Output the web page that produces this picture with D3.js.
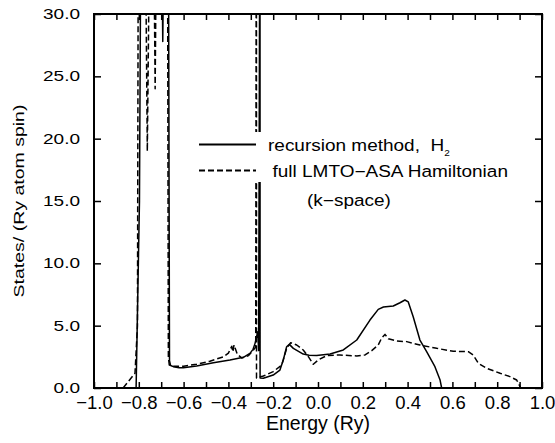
<!DOCTYPE html>
<html><head><meta charset="utf-8">
<script src="https://cdn.jsdelivr.net/npm/d3@7"></script>
<style>
body{margin:0;background:#fff}
svg{display:block}
text{font-family:"Liberation Sans",Arial,Helvetica,sans-serif;fill:#000}
</style>
</head><body>
<svg id="c" width="555" height="443"></svg>
<script>
// ---- data ----
const recursionE = [-0.812,-0.797,-0.790,-0.700,-0.693,-0.686,-0.668,-0.663,-0.658,-0.646,-0.620,-0.601,-0.542,-0.467,-0.393,-0.333,-0.304,-0.290,-0.281,-0.272,-0.269,-0.265,-0.2595,-0.2590,-0.2585,-0.244,-0.200,-0.170,-0.155,-0.140,-0.128,-0.110,-0.066,-0.040,-0.006,0.054,0.113,0.173,0.232,0.269,0.292,0.336,0.366,0.388,0.403,0.425,0.455,0.485,0.522,0.545,0.552];
const recursionDOS = [0,15,40,40,27.8,40,40,2.2,1.8,1.71,1.63,1.63,1.76,2.03,2.25,2.46,2.78,3.1,3.58,4.3,4.52,3.0,40,40,0.8,0.78,1.04,1.44,2.25,3.31,3.5,3.18,2.72,2.62,2.6,2.73,3.05,3.85,5.45,6.31,6.5,6.58,6.84,7.06,6.9,5.72,3.85,2.91,1.71,0.64,0];

const kspaceE = [-0.870,-0.817,-0.806,-0.802,-0.772,-0.762,-0.750,-0.735,-0.727,-0.720,-0.672,-0.668,-0.664,-0.646,-0.600,-0.542,-0.483,-0.423,-0.400,-0.385,-0.380,-0.375,-0.360,-0.340,-0.310,-0.290,-0.2780,-0.2755,-0.2750,-0.2745,-0.244,-0.200,-0.162,-0.140,-0.122,-0.095,-0.066,-0.043,-0.021,0.001,0.039,0.098,0.173,0.210,0.240,0.269,0.284,0.299,0.314,0.351,0.396,0.455,0.530,0.604,0.671,0.693,0.716,0.753,0.813,0.857,0.887,0.905];
const kspaceDOS = [0,1.18,5,40,40,19.0,40,40,24,40,40,2.5,1.85,1.75,1.75,1.9,2.15,2.5,2.8,3.35,2.9,3.45,2.7,2.4,2.6,3.0,3.3,40,40,0.8,0.96,1.31,1.84,3.18,3.63,3.45,3.05,2.51,1.9,2.25,2.6,2.65,2.57,2.65,3.0,3.45,4.0,4.3,3.95,3.77,3.72,3.45,3.18,2.95,2.91,2.65,1.98,1.58,1.18,0.91,0.64,0];

const xMajorTicks = [-1.0,-0.8,-0.6,-0.4,-0.2,0.0,0.2,0.4,0.6,0.8,1.0];
const xMinorTicks = [-0.9,-0.7,-0.5,-0.3,-0.1,0.1,0.3,0.5,0.7,0.9];
const yTicks = [0,5,10,15,20,25,30];
const legendLabels = ["recursion method,  H", "full LMTO\u2212ASA Hamiltonian"];
const legendSub = "2";
const legendExtra = "(k\u2212space)";
const xTitle = "Energy (Ry)";
const yTitle = "States/ (Ry atom spin)";

// ---- layout ----
const L = 94, R = 542, T = 14, B = 388;
const svg = d3.select("#c");
const x = d3.scaleLinear().domain([-1, 1]).range([L, R]);
const y = d3.scaleLinear().domain([0, 30]).range([B, T]);

svg.append("defs").append("clipPath").attr("id","clip")
  .append("rect").attr("x", L).attr("y", T).attr("width", R - L).attr("height", B - T);

const line = d3.line().x(d => x(d[0])).y(d => y(d[1]));
const plot = svg.append("g").attr("clip-path", "url(#clip)");

plot.append("path").datum(d3.zip(kspaceE, kspaceDOS))
  .attr("d", line).attr("fill","none").attr("stroke","#000")
  .attr("stroke-width",1.5).attr("stroke-dasharray","6,3").attr("stroke-linejoin","round");
plot.append("path").datum(d3.zip(recursionE, recursionDOS))
  .attr("d", line).attr("fill","none").attr("stroke","#000")
  .attr("stroke-width",1.5).attr("stroke-linejoin","round");

// ---- legend ----
const leg = svg.append("g");
leg.append("rect").attr("x",190).attr("y",132).attr("width",330).attr("height",50).attr("fill","#fff");
leg.append("line").attr("x1",199).attr("x2",256).attr("y1",144.5).attr("y2",144.5)
  .attr("stroke","#000").attr("stroke-width",1.8);
leg.append("line").attr("x1",199).attr("x2",256).attr("y1",170.5).attr("y2",170.5)
  .attr("stroke","#000").attr("stroke-width",1.8).attr("stroke-dasharray","6,3");
const t1 = leg.append("g").attr("transform","translate(268,151) scale(1,0.86)")
  .append("text").attr("font-size",19).style("white-space","pre");
t1.append("tspan").text(legendLabels[0]);
t1.append("tspan").attr("font-size",10).attr("dy",6).text(legendSub);
leg.append("g").attr("transform","translate(272.5,176.5) scale(1,0.86)")
  .append("text").attr("font-size",19).text(legendLabels[1]);
leg.append("g").attr("transform","translate(307,205.5) scale(1,0.86)")
  .append("text").attr("font-size",19).text(legendExtra);

// ---- axes ----
const fmt = d3.format(".1f");
const axB = svg.append("g").attr("transform",`translate(0,${B})`)
  .call(d3.axisBottom(x).tickValues(xMajorTicks).tickSizeInner(-6).tickSizeOuter(0).tickPadding(8).tickFormat(fmt));
const axBm = svg.append("g").attr("transform",`translate(0,${B})`)
  .call(d3.axisBottom(x).tickValues(xMinorTicks).tickSizeInner(-6).tickSizeOuter(0).tickFormat(""));
const axT = svg.append("g").attr("transform",`translate(0,${T})`)
  .call(d3.axisTop(x).tickValues(xMajorTicks.concat(xMinorTicks)).tickSizeInner(-6).tickSizeOuter(0).tickFormat(""));
const axL = svg.append("g").attr("transform",`translate(${L},0)`)
  .call(d3.axisLeft(y).tickValues(yTicks).tickSizeInner(-7).tickSizeOuter(0).tickPadding(14).tickFormat(fmt));
const axR = svg.append("g").attr("transform",`translate(${R},0)`)
  .call(d3.axisRight(y).tickValues(yTicks).tickSizeInner(-7).tickSizeOuter(0).tickFormat(""));

[axB, axBm, axT, axL, axR].forEach(g => {
  g.select(".domain").remove();
  g.selectAll(".tick line").attr("stroke","#000").attr("stroke-width",1.5);
});
axB.selectAll("text").attr("font-size",18.5).attr("font-family",null).attr("fill","#000")
  .attr("dy", null).attr("y", 20.5);
axL.selectAll("text").attr("font-size",19).attr("font-family",null).attr("fill","#000")
  .attr("transform","scale(1,0.74)");

// frame
svg.append("rect").attr("x",L).attr("y",T).attr("width",R-L).attr("height",B-T)
  .attr("fill","none").attr("stroke","#000").attr("stroke-width",2);

// titles
svg.append("text").attr("x",(L+R)/2).attr("y",430).attr("text-anchor","middle")
  .attr("font-size",19.5).text(xTitle);
svg.append("g").attr("transform",`translate(24,${(T+B)/2}) rotate(-90) scale(1,0.77)`)
  .append("text").attr("text-anchor","middle").attr("font-size",19.5).text(yTitle);
</script>
</body></html>
